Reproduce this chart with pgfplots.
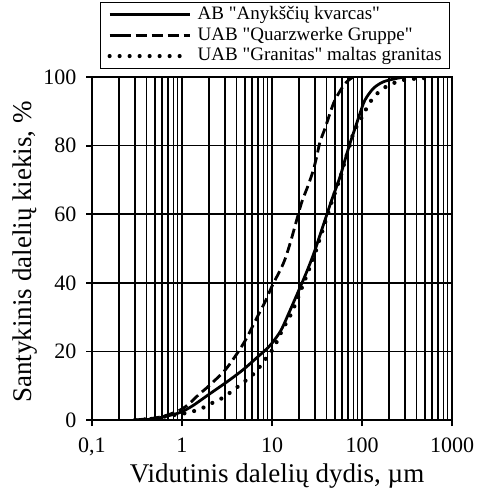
\documentclass[border=0pt]{standalone}
\usepackage{fontspec}
\setmainfont{Liberation Serif}[Ligatures=TeXOff]
\usepackage{pgfplots}
\pgfplotsset{compat=1.18}
\begin{document}
\begin{tikzpicture}
\useasboundingbox (-92pt,-68pt) rectangle (392pt,420pt);
\begin{axis}[
  scale only axis, width=360pt, height=343pt,
  at={(0pt,0pt)}, anchor=south west,
  xmode=log, xmin=0.1, xmax=1000, ymin=0, ymax=100,
  xtick={0.1,1,10,100,1000}, xticklabels={{0,1},1,10,100,1000},
  minor xtick={0.2,0.3,0.4,0.5,0.6,0.7,0.8,0.9,2,3,4,5,6,7,8,9,20,30,40,50,60,70,80,90,200,300,400,500,600,700,800,900},
  ytick={0,20,40,60,80,100},
  xtick pos=bottom, ytick pos=left,
  tick align=outside, major tick length=6pt, minor tick length=0pt,
  tick style={line width=1.8pt, black},
  grid=both,
  major grid style={line width=1.6pt, black},
  minor grid style={line width=1.2pt, black},
  axis line style={line width=2pt, black},
  /pgf/number format/assume math mode=true,
  ticklabel style={font=\fontsize{22}{22}\selectfont},
  xticklabel style={yshift=-8pt},
  yticklabel style={xshift=-6pt},
  xlabel={Vidutinis dalelių dydis, µm},
  ylabel={Santykinis dalelių kiekis, \%},
  xlabel style={at={(axis description cs:0.514,-0.1808)}, anchor=base, font=\fontsize{27}{27}\selectfont},
  ylabel style={at={(axis description cs:-0.168,0.49)}, anchor=base, font=\fontsize{27}{27}\selectfont},
  legend cell align=left,
  legend style={at={(axis description cs:0.022,1.2187)}, anchor=north west,
    draw=black, line width=1.2pt, inner xsep=7pt, inner ysep=2pt, row sep=0pt, column sep=5pt,
    font=\fontsize{19}{21}\selectfont,
    nodes={inner sep=1pt, text height=14pt, text depth=4.6pt}},
]
\addplot[black, line width=2.8pt, smooth,
  legend image code/.code={\path (0pt,0pt) -- (10pt,0pt); \draw[black, line width=2.8pt] (10pt,0pt) -- (80pt,0pt);}] coordinates {
(0.3,0) (0.4,0.1) (0.5,0.4) (0.6,0.8) (0.8,1.6) (1,2.4) (1.34,4.3) (2,7.5) (3,10.7) (4,13.1) (5,15.1)
(7.36,19) (8.7,20.7) (10,22.4) (12.5,26) (15,30.5) (20,38) (25,44) (30,49.5) (38.8,58.3) (46,64.1)
(57,70.9) (64.7,75.8) (73.6,80.7) (83.6,85) (95,89.4) (108,93.3) (134,96.7) (173,98.6) (243,99.6) (300,100)
};
\addlegendentry{AB "Anykščių kvarcas"}
\addplot[black, line width=2.8pt, dash pattern=on 10pt off 5pt, smooth,
  legend image code/.code={\path (0pt,0pt) -- (10pt,0pt); \draw[black, line width=2.8pt, dash pattern=on 11pt off 5pt] (10pt,0pt) -- (80pt,0pt);}] coordinates {
(0.3,0) (0.5,0.6) (0.7,1.5) (1,3.2) (1.23,5) (1.52,7.3) (2,10) (3,14.5) (4,19) (5,23) (6,27) (7,30.5)
(8.4,34.5) (10,39) (13.4,45.7) (15.9,51.5) (18.8,58.3) (21.4,63.5) (25.3,68.5) (28.8,72.9) (31.4,76.8)
(34.1,81) (38.8,85) (44.1,89.4) (50.1,93.3) (64.7,98.1) (80,100)
};
\addlegendentry{UAB "Quarzwerke Gruppe"}
\addplot[black, line width=4.2pt, line cap=round, dash pattern=on 0pt off 10pt, smooth,
  legend image code/.code={\path (0pt,0pt) -- (10pt,0pt); \draw[black, line width=4.2pt, line cap=round, dash pattern=on 0pt off 10pt] (10pt,0pt) -- (80pt,0pt);}] coordinates {
(0.3,0) (0.5,0.4) (0.7,1.2) (1,1.8) (1.28,2.4) (1.66,3.4) (2.14,4.9) (2.76,6.3) (3.47,8.1) (4.4,10.2)
(5.46,12.1) (6.8,14.4) (8,17) (9.5,19.4) (11.1,22.4) (12.5,25.3) (14.3,28.2) (16.3,30.9) (18.3,34)
(20,36.5) (25,43) (30,48.5) (38.8,57.5) (46,63.5) (57,70.5) (64.7,75.5) (73.6,80.3) (78.8,83) (88.7,86)
(103,88.9) (117,91.8) (139,94.5) (173,96.7) (219,98.1) (288,99.1) (388,99.5) (522,99.7)
};
\addlegendentry{UAB "Granitas" maltas granitas}
\end{axis}
\end{tikzpicture}
\end{document}
